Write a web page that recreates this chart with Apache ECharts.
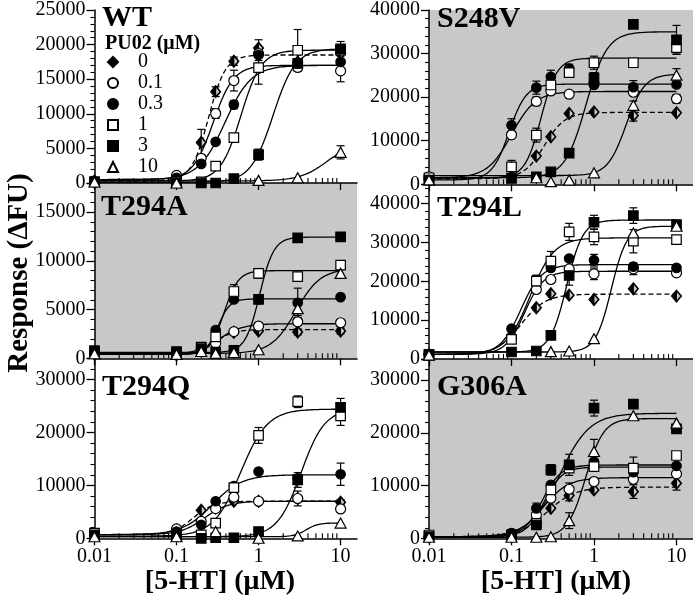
<!DOCTYPE html>
<html><head><meta charset="utf-8">
<script src="https://cdn.jsdelivr.net/npm/echarts@6/dist/echarts.min.js"></script>
<style>html,body{margin:0;padding:0;background:#fff}#c{width:693px;height:600px}</style>
</head><body><div id="c"></div>
<script>
// ---------------- DATA ----------------
const doses = [0.01, 0.1, 0.2, 0.3, 0.5, 1, 3, 10];          // [5-HT] (µM)
const pu02 = ['0', '0.1', '0.3', '1', '3', '10'];             // PU02 (µM) series
const xTickLabels = [0.01, 0.1, 1, 10];
const xMinorTicks = [0.02,0.03,0.04,0.05,0.06,0.07,0.08,0.09,0.2,0.3,0.4,0.5,0.6,0.7,0.8,0.9,2,3,4,5,6,7,8,9];
const panelNames = ['WT', 'S248V', 'T294A', 'T294L', 'T294Q', 'G306A'];
const yMaxes = [25000, 40000, 18000, 45000, 34000, 34000];
const yIntervals = [5000, 10000, 5000, 10000, 10000, 10000];

// means: one row per PU02 series, one column per dose; errors same layout
// fits: [bottom, top, EC50 (µM), Hill slope] of the fitted curve as seen in the figure
const wtMean = [
  [300, 700, 5850, 13200, 17600, 19500, 17500, 18700],
  [150, 1100, 3570, 10040, 14800, 18700, 16700, 16200],
  [150, 760, 2760, 5950, 11330, 18500, 17280, 17500],
  [150, 150, 150, 2430, 6570, 16660, 19180, 19200],
  [150, 0, 0, 0, 620, 4100, 17300, 19400],
  [150, 0, null, null, null, 380, 760, 4430]];
const wtErr = [
  [0, 0, 1900, 700, 600, 1200, 0, 0],
  [0, 0, 0, 700, 1500, 1000, 0, 1570],
  [0, 0, 0, 0, 600, 0, 700, 0],
  [0, 0, 0, 0, 0, 2380, 3000, 0],
  [0, 0, 0, 0, 0, 800, 0, 1050],
  [0, 0, 0, 0, 0, 0, 0, 950]];
const wtFit = [[300, 18500, 0.245, 4.2], [500, 17000, 0.28, 3.5], [500, 17000, 0.39, 2.7],
  [300, 19200, 0.61, 3.5], [100, 19400, 1.5, 3.2], [300, 6000, 6.9, 2.6]];

const s248vMean = [
  [1200, 1800, 6470, 10900, 16240, 16620, 15800, 16400],
  [1730, 11360, 19030, 21430, 20680, 23160, 21130, 19630],
  [980, 13540, 22180, 24670, 26550, 22800, 22300, 22900],
  [1500, 3990, 11280, 22790, 25640, 27900, 27900, 31360],
  [980, 1350, 1730, 2860, 7140, 24440, 36700, 33160],
  [1000, null, 1500, 600, 980, 2630, 18120, 25040]];
const s248vErr = [
  [0, 0, 0, 0, 0, 0, 1300, 0],
  [0, 0, 1000, 0, 0, 0, 0, 1000],
  [0, 1500, 1500, 1500, 1000, 0, 1500, 0],
  [0, 1500, 1600, 0, 800, 1500, 0, 1500],
  [0, 0, 0, 500, 0, 1200, 0, 3300],
  [0, 0, 0, 0, 0, 0, 1000, 1500]];
const s248vFit = [[1300, 16500, 0.25, 3.5], [1500, 21300, 0.1, 3], [1000, 23000, 0.0935, 4.2],
  [1500, 28950, 0.228, 4.5], [1500, 35000, 0.8, 3.4], [2000, 25300, 2.45, 3.9]];

const t294aMean = [
  [470, 370, 980, 1720, 2670, 2800, 2700, 2800],
  [470, 370, 810, 1550, 2740, 3310, 3750, 3650],
  [470, 400, 1000, 2900, 6050, 6050, 5700, 6280],
  [470, 400, 1150, 2200, 6860, 8720, 8380, 9560],
  [780, 700, 1000, 640, 810, 6050, 12360, 12470],
  [470, 400, 700, 500, 600, 880, 5100, 8720]];
const t294aErr = [
  [0, 0, 0, 0, 300, 0, 300, 300],
  [0, 0, 0, 0, 0, 300, 300, 300],
  [0, 0, 0, 0, 0, 0, 1500, 0],
  [0, 0, 0, 0, 700, 500, 0, 0],
  [0, 0, 0, 0, 500, 0, 0, 400],
  [0, 0, 0, 0, 0, 0, 700, 0]];
const t294aFit = [[400, 2950, 0.3, 4], [400, 3550, 0.33, 3], [400, 6100, 0.32, 6],
  [400, 9000, 0.38, 5], [600, 12450, 1.03, 5], [500, 9200, 2.85, 2.9]];

const t294lMean = [
  [1200, 6000, 13200, 16800, 16450, 15340, 18080, 16200],
  [1200, 5480, 17900, 20480, 23220, 21940, 23220, 22200],
  [1000, 7800, 20050, 23480, 25880, 25450, 23800, 23480],
  [1200, 5060, 20050, 25200, 32740, 31450, 30340, 30770],
  [1000, 1800, 2060, 6080, 21510, 35220, 36940, 34620],
  [1000, null, null, 1900, 2060, 5230, 32480, 34200]];
const t294lErr = [
  [0, 0, 0, 0, 0, 0, 0, 0],
  [0, 0, 0, 0, 0, 1500, 1500, 0],
  [0, 0, 1500, 0, 0, 1500, 0, 0],
  [0, 0, 1500, 2500, 2200, 2000, 3000, 0],
  [0, 0, 0, 0, 2500, 1800, 2000, 0],
  [0, 0, 0, 0, 0, 0, 0, 0]];
const t294lFit = [[1200, 16700, 0.131, 2.93], [1200, 22600, 0.144, 3.8], [1200, 24300, 0.13, 3.5],
  [1200, 31200, 0.168, 3], [1800, 35800, 0.465, 4.4], [1800, 34200, 1.62, 4.6]];

const t294qMean = [
  [640, 1590, 5290, 5730, 7000, 7000, 7520, 6820],
  [640, 1780, 3190, 5600, 7770, 7000, 7520, 5540],
  [400, 1270, 2550, 7000, 9870, 12610, 11340, 12100],
  [960, 320, 640, 2870, 9560, 19430, 25800, 23120],
  [640, 300, 0, 100, 100, 1270, 11020, 24720],
  [300, 300, null, 1270, null, 0, 450, 2870]];
const t294qErr = [
  [0, 0, 0, 0, 0, 0, 0, 500],
  [0, 0, 0, 0, 0, 0, 1400, 0],
  [0, 0, 0, 0, 0, 0, 0, 2100],
  [0, 0, 0, 0, 0, 1500, 1100, 1800],
  [0, 0, 0, 0, 0, 0, 1400, 1700],
  [0, 0, 0, 0, 0, 0, 0, 0]];
const t294qFit = [[700, 7000, 0.16, 3.5], [700, 7000, 0.22, 3], [700, 12000, 0.273, 2.4],
  [400, 24400, 0.602, 2.64], [300, 24500, 3.3, 3], [300, 2900, 3.8, 6]];

const g306aMean = [
  [300, 440, 2850, 5700, 8100, 9180, 8860, 10440],
  [300, 950, 4430, 7600, 9300, 10760, 11200, 12220],
  [300, 950, 5680, 10130, 13600, 14560, 12530, 13740],
  [630, 630, 2850, 9180, 13300, 13600, 13300, 15700],
  [300, 630, 2530, 12980, 13930, 24690, 25450, 20760],
  [200, 200, 190, 300, 3350, 16460, 23230, 21840]];
const g306aErr = [
  [0, 0, 0, 0, 1000, 0, 1300, 1300],
  [0, 0, 0, 0, 1200, 0, 0, 0],
  [0, 0, 1000, 0, 0, 0, 0, 0],
  [0, 0, 0, 0, 0, 0, 2100, 0],
  [0, 0, 0, 1000, 2000, 1500, 0, 0],
  [0, 0, 0, 0, 1500, 2300, 0, 0]];
const g306aFit = [[300, 9700, 0.27, 2.55], [300, 11500, 0.242, 2.86], [300, 13900, 0.235, 3.87],
  [300, 13500, 0.248, 4], [300, 23700, 0.383, 2.4], [200, 22700, 0.79, 4]];

// ---------------- LAYOUT / STYLE ----------------
const FONT = "'Liberation Serif','Times New Roman',serif";
const panels = [
  {mean: wtMean, err: wtErr, fit: wtFit},
  {mean: s248vMean, err: s248vErr, fit: s248vFit},
  {mean: t294aMean, err: t294aErr, fit: t294aFit},
  {mean: t294lMean, err: t294lErr, fit: t294lFit},
  {mean: t294qMean, err: t294qErr, fit: t294qFit},
  {mean: g306aMean, err: g306aErr, fit: g306aFit}];
const boxes = [
  {left: 94.5, top: 8.3, width: 262.5, height: 174.7, bg: 'transparent'},
  {left: 429, top: 6.7, width: 264, height: 177.6, bg: '#c8c8c8'},
  {left: 94.5, top: 183, width: 262.5, height: 175.3, bg: '#c8c8c8'},
  {left: 429, top: 184.3, width: 264, height: 174.7, bg: 'transparent'},
  {left: 94.5, top: 358.3, width: 262.5, height: 180, bg: 'transparent'},
  {left: 429, top: 359, width: 264, height: 179.3, bg: '#c8c8c8'}];
const labelPos = [[102, 3], [437, 4], [101, 192], [437, 193], [102, 372], [437, 372]];
const markers = [
  {symbol: 'diamond', size: [10, 12], color: '#000'},
  {symbol: 'circle', size: 10, color: '#fff'},
  {symbol: 'circle', size: 9.5, color: '#000'},
  {symbol: 'rect', size: 9.5, color: '#fff'},
  {symbol: 'rect', size: 9.5, color: '#000'},
  {symbol: 'triangle', size: [11, 10], color: '#fff'}];

function hillCurve(p) {
  const [b, t, ec, n] = p, pts = [];
  for (let i = 0; i <= 120; i++) {
    const x = Math.pow(10, -2 + 3 * i / 120);
    pts.push([x, b + (t - b) / (1 + Math.pow(ec / x, n))]);
  }
  return pts;
}

const grid = [], xAxis = [], yAxis = [], series = [], title = [];
boxes.forEach((bx, i) => {
  grid.push({left: bx.left, top: bx.top, width: bx.width, height: bx.height, show: true,
    backgroundColor: bx.bg, borderWidth: 0});
  const bottom = i >= 4;
  xAxis.push({type: 'log', logBase: 10, gridIndex: i, min: 0.01, max: Math.pow(10, 1.2),
    axisLine: {lineStyle: {color: '#000', width: 1.5}},
    axisTick: {show: true, length: 7, customValues: xTickLabels, lineStyle: {color: '#000', width: 1.3}},
    minorTick: {show: false}, splitLine: {show: false},
    axisLabel: {show: bottom, customValues: xTickLabels, margin: 8, fontFamily: FONT, fontSize: 20, color: '#000',
      formatter: v => String(+(+v).toPrecision(3))}});
  const cust = [];
  for (let v = 0; v <= yMaxes[i]; v += yIntervals[i]) cust.push(v);
  yAxis.push({type: 'value', gridIndex: i, min: 0, max: yMaxes[i], interval: yIntervals[i],
    axisLine: {show: true, lineStyle: {color: '#000', width: 1.5}},
    axisTick: {show: true, length: 8, lineStyle: {color: '#000', width: 1.3}},
    minorTick: {show: true, splitNumber: 5, length: 4, lineStyle: {color: '#000', width: 1.1}},
    splitLine: {show: false},
    axisLabel: {margin: 9, fontFamily: FONT, fontSize: 20, color: '#000', customValues: cust,
      formatter: v => String(Math.round(+v))}});
  title.push({text: panelNames[i], left: labelPos[i][0], top: labelPos[i][1], padding: 0,
    textStyle: {fontFamily: FONT, fontSize: 30, fontWeight: 'bold', color: '#000'}});

  const P = panels[i];
  // fitted curves
  P.fit.forEach((f, s) => {
    series.push({type: 'line', name: 'fit ' + pu02[s], xAxisIndex: i, yAxisIndex: i, data: hillCurve(f),
      symbol: 'none', silent: true, z: 2,
      lineStyle: {color: '#000', width: 1.3, type: s === 0 ? [5, 3] : 'solid'}});
  });
  // error bars
  const eb = [];
  P.mean.forEach((row, s) => row.forEach((m, k) => {
    if (m != null && P.err[s][k] > 0) eb.push([doses[k], m, P.err[s][k]]);
  }));
  series.push({type: 'custom', name: 'err', xAxisIndex: i, yAxisIndex: i, data: eb, z: 3, silent: true, clip: false,
    renderItem: (params, api) => {
      const x = api.value(0), y = api.value(1), e = api.value(2);
      const a = api.coord([x, y + e]), b = api.coord([x, Math.max(0, y - e)]);
      const st = {stroke: '#000', lineWidth: 1.2};
      return {type: 'group', children: [
        {type: 'line', shape: {x1: a[0], y1: a[1], x2: b[0], y2: b[1]}, style: st},
        {type: 'line', shape: {x1: a[0] - 4, y1: a[1], x2: a[0] + 4, y2: a[1]}, style: st},
        {type: 'line', shape: {x1: b[0] - 4, y1: b[1], x2: b[0] + 4, y2: b[1]}, style: st}]};
    }});
  // minor x ticks (log 2..9), pointing into the panel
  series.push({type: 'custom', name: 'xminor', xAxisIndex: i, yAxisIndex: i, silent: true, z: 3, clip: false,
    data: xMinorTicks.map(v => [v, 0]),
    renderItem: (params, api) => {
      const p = api.coord([api.value(0), 0]);
      return {type: 'line', shape: {x1: p[0], y1: p[1], x2: p[0], y2: p[1] - 5},
        style: {stroke: '#000', lineWidth: 1.1}};
    }});
  // data points
  P.mean.forEach((row, s) => {
    const mk = markers[s];
    const data = [];
    row.forEach((m, k) => { if (m != null) data.push([doses[k], m]); });
    series.push({type: 'scatter', name: pu02[s], xAxisIndex: i, yAxisIndex: i, data, clip: false,
      symbol: mk.symbol, symbolSize: mk.size, z: 4 + s * 0.1,
      itemStyle: {color: mk.color, borderColor: '#000', borderWidth: 1.2, opacity: 1}});
    if (s === 0) {
      series.push({type: 'scatter', name: 'half', xAxisIndex: i, yAxisIndex: i, data, clip: false, silent: true,
        symbol: 'path://M0,0 L1,1 L0,2 Z', symbolSize: [3.2, 7.4], symbolOffset: [2.1, 0], z: 4.05,
        itemStyle: {color: '#fff', borderWidth: 0}});
    }
  });
});

title.push({text: 'PU02 (\u03bcM)', left: 105, top: 34, padding: 0,
  textStyle: {fontFamily: FONT, fontSize: 20, fontWeight: 'bold', color: '#000'}});

const chart = echarts.init(document.getElementById('c'), null, {renderer: 'canvas'});
chart.setOption({
  animation: false,
  title, grid, xAxis, yAxis, series,
  legend: {data: pu02, orient: 'vertical', left: 107, top: 52, itemWidth: 10, itemHeight: 10, itemGap: 1,
    selectedMode: false, padding: 0,
    textStyle: {fontFamily: FONT, fontSize: 20, color: '#000', lineHeight: 16, padding: [0, 0, 0, 15]}},
  graphic: [
    {type: 'text', x: 20, y: 273, rotation: Math.PI / 2,
      style: {text: 'Response (\u0394FU)', font: 'bold 29px ' + FONT, fill: '#000', align: 'center', verticalAlign: 'middle'}},
    {type: 'text', x: 220, y: 582,
      style: {text: '[5-HT] (\u03bcM)', font: 'bold 28px ' + FONT, fill: '#000', align: 'center', verticalAlign: 'middle'}},
    {type: 'text', x: 556, y: 582,
      style: {text: '[5-HT] (\u03bcM)', font: 'bold 28px ' + FONT, fill: '#000', align: 'center', verticalAlign: 'middle'}}]
});
</script></body></html>
